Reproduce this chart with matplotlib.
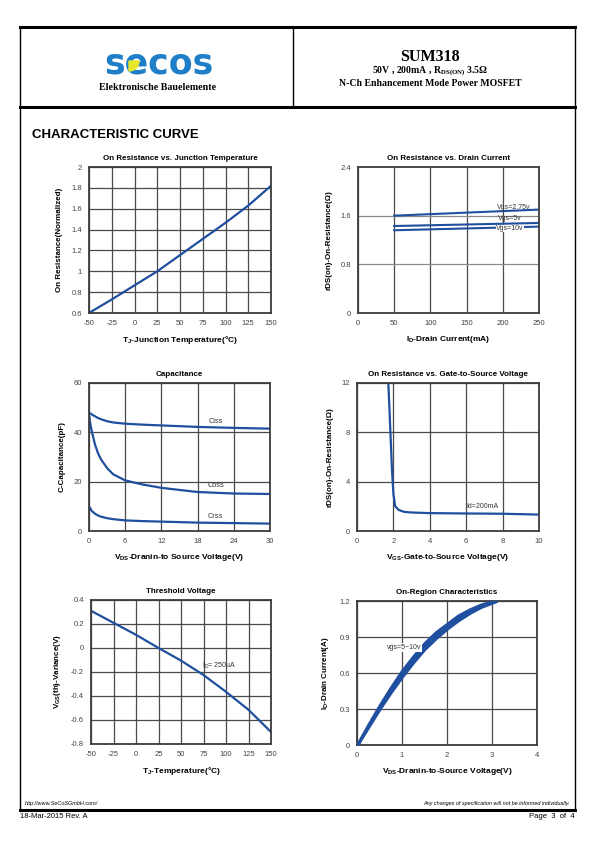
import numpy as np
import matplotlib.pyplot as plt
from matplotlib.patches import Wedge

plt.rcParams['font.family'] = ['Liberation Sans', 'DejaVu Sans']
plt.rcParams['mathtext.fontset'] = 'custom'
plt.rcParams['mathtext.rm'] = 'Liberation Sans'
plt.rcParams['axes.unicode_minus'] = False

W, H = 595, 842
BLUE = '#1f4f9e'
FRAME = '#3c3c3c'
GRID = '#4a4a4a'

# ---- data ----
tj = [-50, -25, 0, 25, 50, 75, 100, 125, 150]
rds_norm = [0.60, 0.73, 0.865, 1.0, 1.155, 1.31, 1.465, 1.63, 1.82]

id_ma = [50, 250]
rds_275 = [1.60, 1.70]
rds_5 = [1.43, 1.48]
rds_10 = [1.36, 1.42]

vds_c = [0, 0.25, 0.5, 1, 1.5, 2, 3, 4, 6, 9, 12, 18, 24, 30]
ciss = [48, 47.6, 47.2, 46.5, 45.8, 45.3, 44.5, 44.0, 43.5, 43.1, 42.8, 42.2, 41.8, 41.5]
coss = [47, 43, 40, 35, 31.5, 29, 25.5, 23, 20.5, 18.8, 17.5, 15.8, 15.2, 15.0]
crss = [10, 9, 8, 7, 6.3, 5.8, 5.2, 4.8, 4.3, 4.0, 3.8, 3.4, 3.2, 3.0]

vgs = [1.72, 1.78, 1.85, 1.92, 2.0, 2.1, 2.3, 2.6, 3.0, 4.0, 6.0, 8.0, 10.0]
rds_vgs = [12, 10, 7.5, 5.0, 3.0, 2.0, 1.7, 1.55, 1.5, 1.45, 1.42, 1.4, 1.33]

tj_th = [-50, -25, 0, 25, 50, 75, 100, 125, 150]
vth_var = [0.31, 0.21, 0.11, 0.0, -0.105, -0.225, -0.365, -0.515, -0.70]

vds_on = [0, 0.25, 0.5, 0.75, 1.0, 1.25, 1.5, 1.75, 2.0, 2.25, 2.5, 2.75, 3.1]
id_lo = [0, 0.15, 0.30, 0.44, 0.57, 0.69, 0.80, 0.89, 0.97, 1.04, 1.10, 1.15, 1.20]
id_hi = [0, 0.17, 0.33, 0.48, 0.62, 0.74, 0.85, 0.94, 1.01, 1.08, 1.13, 1.17, 1.21]

fig = plt.figure(figsize=(W / 100, H / 100), dpi=100)

# page overlay in pixel coordinates
pg = fig.add_axes([0, 0, 1, 1], zorder=0)
pg.set_xlim(0, W)
pg.set_ylim(H, 0)
pg.axis('off')

pg.plot([20, 575], [27, 27], color='black', lw=2.2)
pg.plot([20, 575], [107, 107], color='black', lw=2.2)
pg.plot([20, 575], [810, 810], color='black', lw=2.2)
pg.plot([20, 20], [27, 810], color='black', lw=1)
pg.plot([575, 575], [27, 810], color='black', lw=1)
pg.plot([293, 293], [27, 107], color='black', lw=1)

# logo
pg.text(159, 63, 'secos', color='#1e7fc8', fontsize=25, fontweight='heavy',
        family='DejaVu Sans', ha='center', va='center')
pg.add_patch(Wedge((129, 61), 10, 0, 90, color='#e8e82a', zorder=3))
pg.text(158, 88, 'Elektronische Bauelemente', fontsize=7.2, fontweight='bold',
        family='Liberation Serif', ha='center', va='center')

pg.text(430, 57, 'SUM318', fontsize=11.5, fontweight='bold',
        family='Liberation Serif', ha='center', va='center')
pg.text(430, 71, r'50V , 200mA , R$_{\mathregular{DS(ON)}}$ 3.5Ω', fontsize=7,
        fontweight='bold', family='Liberation Serif', ha='center', va='center')
pg.text(430, 83, 'N-Ch Enhancement Mode Power MOSFET', fontsize=7,
        fontweight='bold', family='Liberation Serif', ha='center', va='center')

pg.text(32, 135, 'CHARACTERISTIC CURVE', fontsize=9.5, fontweight='bold',
        ha='left', va='center')

pg.text(25, 803, 'http://www.SeCoSGmbH.com/', fontsize=4, style='italic',
        ha='left', va='center')
pg.text(570, 803, 'Any changes of specification will not be informed individually.',
        fontsize=4, style='italic', ha='right', va='center')
pg.text(20, 817, '18-Mar-2015 Rev. A', fontsize=5.5, ha='left', va='center')
pg.text(575, 817, 'Page  3  of  4', fontsize=5.5, ha='right', va='center')


def make_ax(l, t, r, b, title, xlabel, ylabel, xlim, ylim, xticks, yticks):
    ax = fig.add_axes([l / W, 1 - b / H, (r - l) / W, (b - t) / H], zorder=2)
    ax.set_xlim(*xlim)
    ax.set_ylim(*ylim)
    ax.set_xticks(xticks)
    ax.set_yticks(yticks)
    ax.tick_params(length=0, labelsize=5.5, labelcolor='#444', pad=5)
    ax.grid(True, color=GRID, lw=0.9)
    ax.set_axisbelow(True)
    for s in ax.spines.values():
        s.set_color(FRAME)
        s.set_linewidth(1.3)
    ax.set_title(title, fontsize=5.8, fontweight='bold', pad=5)
    ax.set_xlabel(xlabel, fontsize=6, fontweight='bold', labelpad=5)
    ax.set_ylabel(ylabel, fontsize=5.8, fontweight='bold', labelpad=6)
    return ax


# 1. On resistance vs junction temperature
ax1 = make_ax(89, 167, 271, 313, 'On Resistance vs. Junction Temperature',
              r'T$_{\mathregular{J}}$-Junction Temperature(°C)',
              'On Resistance(Normalized)', (-50, 150), (0.6, 2),
              tj, [0.6, 0.8, 1, 1.2, 1.4, 1.6, 1.8, 2])
ax1.set_yticklabels(['0.6', '0.8', '1', '1.2', '1.4', '1.6', '1.8', '2'])
ax1.plot(tj, rds_norm, color=BLUE, lw=1.6)

# 2. On resistance vs drain current
ax2 = make_ax(358, 167, 539, 313, 'On Resistance vs. Drain Current',
              r'I$_{\mathregular{D}}$-Drain Current(mA)',
              'rDS(on)-On-Resistance(Ω)', (0, 250), (0, 2.4),
              [0, 50, 100, 150, 200, 250], [0, 0.8, 1.6, 2.4])
ax2.set_yticklabels(['0', '0.8', '1.6', '2.4'])
for yv in [1.6, 0.8]:
    ax2.axhline(yv, color='#8a8a8a', lw=0.9, zorder=1)
ax2.yaxis.grid(False)
ax2.plot(id_ma, rds_275, color=BLUE, lw=1.5)
ax2.plot(id_ma, rds_5, color=BLUE, lw=1.5)
ax2.plot(id_ma, rds_10, color=BLUE, lw=1.5)
ax2.text(215, 1.74, 'Vgs=2.75v', fontsize=5, color='#333', ha='center', va='center')
ax2.text(210, 1.555, 'Vgs=5v', fontsize=5, color='#333', ha='center', va='center')
ax2.text(210, 1.39, 'Vgs=10v', fontsize=5, color='#333', ha='center', va='center',
         bbox=dict(facecolor='white', edgecolor='none', pad=0.3))

# 3. Capacitance
ax3 = make_ax(89, 383, 270, 531, 'Capacitance',
              r'V$_{\mathregular{DS}}$-Dranin-to Source Voltage(V)',
              'C-Capacitance(pF)', (0, 30), (0, 60),
              [0, 6, 12, 18, 24, 30], [0, 20, 40, 60])
ax3.plot(vds_c, ciss, color=BLUE, lw=1.6)
ax3.plot(vds_c, coss, color=BLUE, lw=1.6)
ax3.plot(vds_c, crss, color=BLUE, lw=1.6)
ax3.text(21, 44.5, 'Ciss', fontsize=5.3, color='#333', ha='center', va='center')
ax3.text(21, 18.5, 'Coss', fontsize=5.3, color='#333', ha='center', va='center')
ax3.text(21, 5.8, 'Crss', fontsize=5.3, color='#333', ha='center', va='center')

# 4. On resistance vs gate-to-source voltage
ax4 = make_ax(357, 383, 539, 531, 'On Resistance vs. Gate-to-Source Voltage',
              r'V$_{\mathregular{GS}}$-Gate-to-Source Voltage(V)',
              'rDS(on)-On-Resistance(Ω)', (0, 10), (0, 12),
              [0, 2, 4, 6, 8, 10], [0, 4, 8, 12])
ax4.plot(vgs, rds_vgs, color=BLUE, lw=1.6)
ax4.text(6.9, 2.0, 'Id=200mA', fontsize=5, color='#333', ha='center', va='center')

# 5. Threshold voltage
ax5 = make_ax(91, 600, 271, 744, 'Threshold Voltage',
              r'T$_{\mathregular{J}}$-Temperature(°C)',
              r'V$_{\mathregular{GS}}$(th)-Variance(V)', (-50, 150), (-0.8, 0.4),
              tj_th, [-0.8, -0.6, -0.4, -0.2, 0, 0.2, 0.4])
ax5.set_yticklabels(['-0.8', '-0.6', '-0.4', '-0.2', '0', '0.2', '0.4'])
ax5.plot(tj_th, vth_var, color=BLUE, lw=1.6)
ax5.text(92, -0.15, r'I$_{\mathregular{D}}$= 250uA', fontsize=5, color='#333',
         ha='center', va='center')

# 6. On-region characteristics
ax6 = make_ax(357, 601, 537, 745, 'On-Region Characteristics',
              r'V$_{\mathregular{DS}}$-Dranin-to-Source Voltage(V)',
              r'I$_{\mathregular{D}}$-Drain Current(A)', (0, 4), (0, 1.2),
              [0, 1, 2, 3, 4], [0, 0.3, 0.6, 0.9, 1.2])
ax6.set_yticklabels(['0', '0.3', '0.6', '0.9', '1.2'])
ax6.fill_between(vds_on, id_lo, id_hi, color=BLUE, lw=2.2, edgecolor=BLUE, zorder=3)
ax6.text(1.05, 0.81, 'vgs=5~10v', fontsize=5, color='#333', ha='center', va='center',
         zorder=4, bbox=dict(facecolor='white', edgecolor='none', pad=0.6))

fig.savefig('out.png', dpi=100)
